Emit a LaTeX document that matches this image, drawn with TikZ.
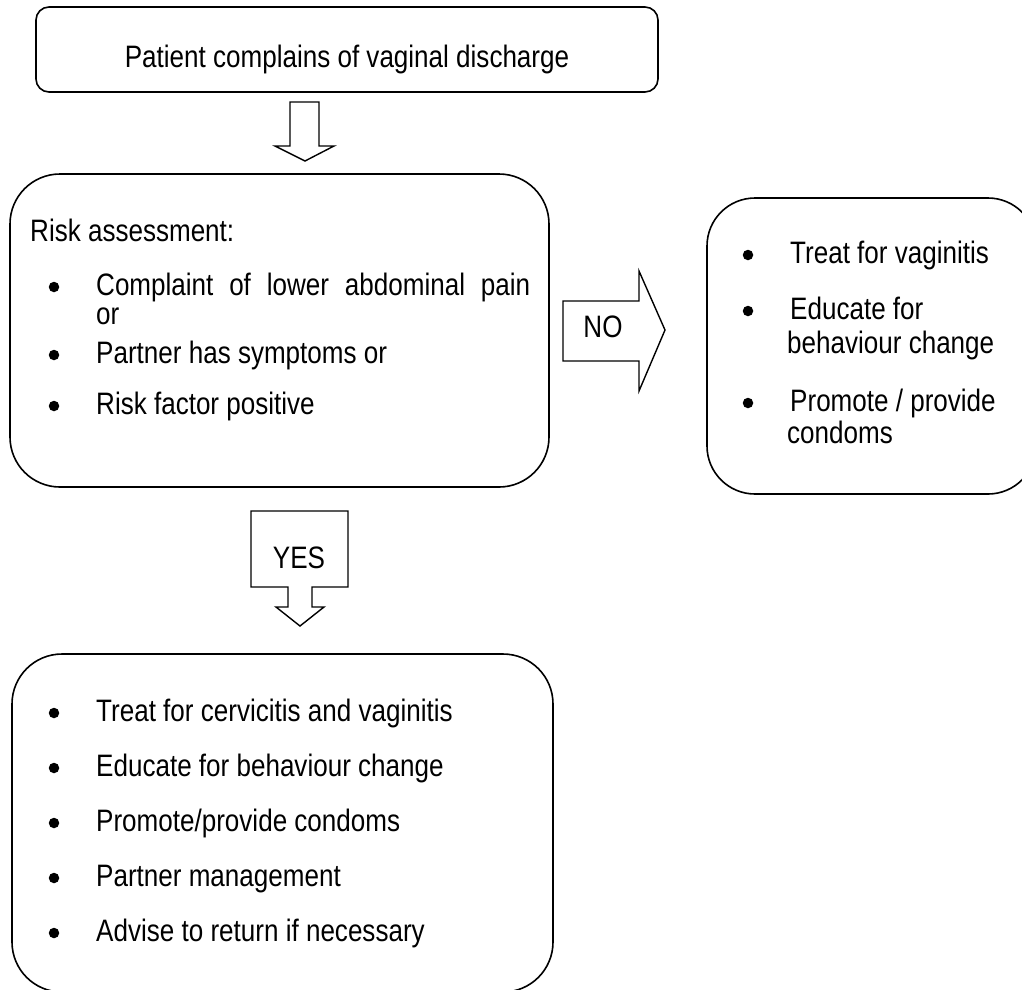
\documentclass[tikz,border=0pt]{standalone}
\usepackage{fontspec}
\setmainfont{Liberation Sans}[FakeStretch=0.84]
\begin{document}
\begin{tikzpicture}[x=1pt,y=-1pt,
  box/.style={draw, line width=1.6pt},
  blockarrow/.style={draw, line width=1.4pt, line join=miter},
  txt/.style={anchor=base west, inner sep=0pt, font=\fontsize{31}{37}\selectfont},
  ctxt/.style={anchor=base, inner sep=0pt, font=\fontsize{31}{37}\selectfont},
  dot/.style={circle, fill, inner sep=0pt, minimum size=10.5pt}]
\useasboundingbox (0,0) rectangle (1022,989);

% boxes
\draw[box, rounded corners=13pt] (36,7) rectangle (658,92);
\draw[box, rounded corners=50pt] (10,174) rectangle (549,487);
\draw[box, rounded corners=48pt] (707,198) rectangle (1036,494);
\draw[box, rounded corners=50pt] (12,654) rectangle (553,992);

% top text
\node[ctxt] (top) at (347,67) {Patient complains of vaginal discharge};

% arrow 1
\draw[blockarrow] (290,102) -- (319,102) -- (319,146) -- (334,146) -- (305,161) -- (275,146) -- (290,146) -- cycle;

% risk box
\node[txt] (risk) at (30,241) {Risk assessment:};
\node[dot] (rb1) at (54,287) {};
\node[txt] (r1) at (96,295) {\makebox[434pt][s]{Complaint of lower abdominal pain}};
\node[txt] (r1b) at (96,324) {or};
\node[dot] (rb2) at (54,355) {};
\node[txt] (r2) at (96,363) {Partner has symptoms or};
\node[dot] (rb3) at (54,406) {};
\node[txt] (r3) at (96,414) {Risk factor positive};

% NO arrow
\draw[blockarrow] (563,301) -- (639,301) -- (639,271) -- (665,330) -- (639,391) -- (639,361) -- (563,361) -- cycle;
\node[ctxt] (no) at (603,337) {NO};

% right box
\node[dot] (nb1) at (748,255) {};
\node[txt] (n1) at (790,263) {Treat for vaginitis};
\node[dot] (nb2) at (748,311) {};
\node[txt] (n2) at (790,319) {Educate for};
\node[txt] (n2b) at (787,353) {behaviour change};
\node[dot] (nb3) at (748,403) {};
\node[txt] (n3) at (790,411) {Promote / provide};
\node[txt] (n3b) at (787,443) {condoms};

% YES callout
\draw[blockarrow] (251,511) -- (348,511) -- (348,587) -- (312,587) -- (312,607) -- (324,607) -- (300,626) -- (276,607) -- (288,607) -- (288,587) -- (251,587) -- cycle;
\node[ctxt] (yes) at (299,568) {YES};

% bottom box
\node[dot] (b1d) at (54,713) {};
\node[txt] (b1) at (96,721) {Treat for cervicitis and vaginitis};
\node[dot] (b2d) at (54,768) {};
\node[txt] (b2) at (96,776) {Educate for behaviour change};
\node[dot] (b3d) at (54,823) {};
\node[txt] (b3) at (96,831) {Promote/provide condoms};
\node[dot] (b4d) at (54,878) {};
\node[txt] (b4) at (96,886) {Partner management};
\node[dot] (b5d) at (54,933) {};
\node[txt] (b5) at (96,941) {Advise to return if necessary};
\end{tikzpicture}
\end{document}
